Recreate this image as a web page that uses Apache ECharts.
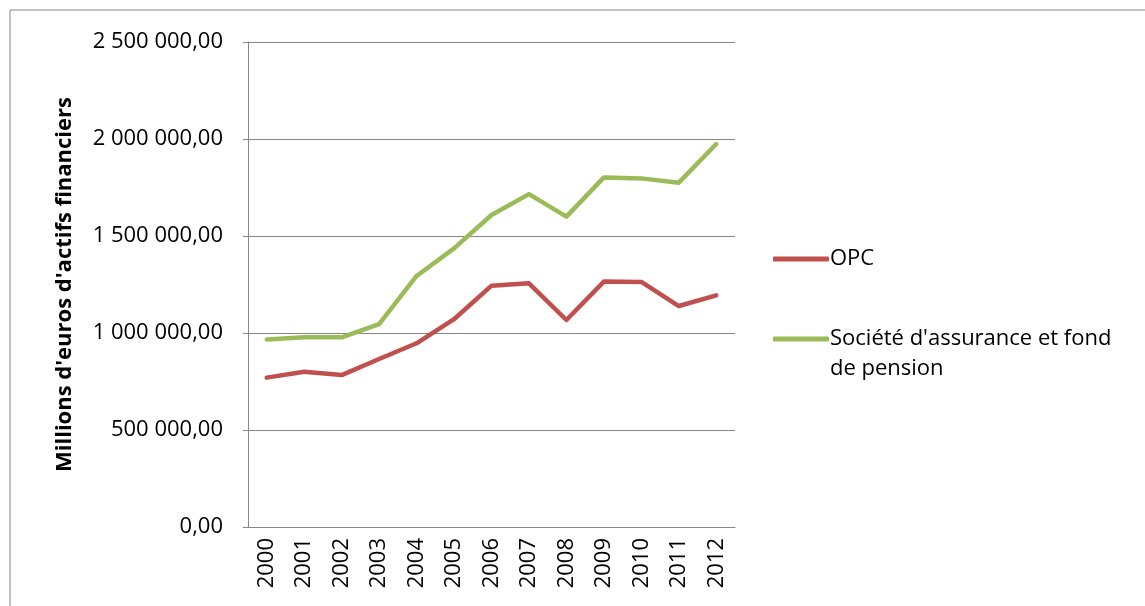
<!DOCTYPE html>
<html>
<head>
<meta charset="utf-8">
<script src="https://cdn.jsdelivr.net/npm/echarts@6/dist/echarts.min.js"></script>
<style>
  html, body { margin: 0; padding: 0; background: #fff; }
  #main { width: 1145px; height: 606px; }
</style>
</head>
<body>
<div id="main"></div>
<script>
// années
const years = ['2000','2001','2002','2003','2004','2005','2006','2007','2008','2009','2010','2011','2012']
// OPC (millions d'euros)
const opc = [770000, 800000, 783000, 866000, 947000, 1071000, 1244000, 1256000, 1067000, 1265000, 1263000, 1139000, 1194000]
// Société d'assurance et fond de pension
const assurance = [967000, 978000, 978000, 1046000, 1294000, 1436000, 1608000, 1716000, 1600000, 1802000, 1797000, 1775000, 1974000]
const yTicks = [0, 500000, 1000000, 1500000, 2000000, 2500000]

const font = '"Open Sans", "Noto Sans", sans-serif'
const fs = 22

// 2 500 000,00
function fmt(v) {
    const s = String(Math.round(v)).replace(/\B(?=(\d{3})+(?!\d))/g, ' ')
    return s + ',00'
}

const myChart = echarts.init(document.getElementById('main'))
myChart.setOption({
    animation: false,
    textStyle: { fontFamily: font },
    graphic: [
        {
            type: 'rect',
            shape: { x: 10, y: 10, width: 1200, height: 700 },
            style: { fill: 'none', stroke: '#868686', lineWidth: 1 },
            silent: true
        },
        {
            // deuxième ligne de la légende
            type: 'text',
            left: 830,
            top: 358,
            style: { text: 'de pension', fontSize: fs, fontFamily: font, fill: '#000' },
            silent: true
        }
    ],
    grid: { left: 248, top: 42, width: 487, height: 485 },
    legend: {
        orient: 'vertical',
        left: 773,
        top: 248,
        padding: 0,
        itemGap: 58,
        itemWidth: 56,
        itemHeight: 5,
        icon: 'roundRect',
        textStyle: { fontFamily: font, fontSize: fs, color: '#000', padding: [0, 0, 0, -4] },
        formatter: function (name) {
            return name === 'OPC' ? name : "Société d'assurance et fond"
        },
        data: ['OPC', "Société d'assurance et fond de pension"]
    },
    xAxis: {
        type: 'category',
        data: years,
        boundaryGap: true,
        axisLine: { lineStyle: { color: '#868686', width: 1 } },
        axisTick: { show: false },
        axisLabel: { rotate: 90, fontSize: fs, color: '#000', margin: 11, fontFamily: font }
    },
    yAxis: {
        type: 'value',
        min: yTicks[0],
        max: yTicks[yTicks.length - 1],
        interval: 500000,
        name: "Millions d'euros d'actifs financiers",
        nameLocation: 'middle',
        nameGap: 172,
        nameTextStyle: { fontSize: fs, fontWeight: 'bold', color: '#000', fontFamily: font },
        axisLine: { show: true, lineStyle: { color: '#868686', width: 1 } },
        axisTick: { show: true, length: 5, lineStyle: { color: '#868686' } },
        splitLine: { lineStyle: { color: '#868686', width: 1 } },
        axisLabel: { fontSize: fs, color: '#000', margin: 25, formatter: fmt, fontFamily: font }
    },
    series: [
        {
            name: 'OPC',
            type: 'line',
            data: opc,
            symbol: 'none',
            color: '#C0504D',
            lineStyle: { width: 4.5, color: '#C0504D', cap: 'round', join: 'round' }
        },
        {
            name: "Société d'assurance et fond de pension",
            type: 'line',
            data: assurance,
            symbol: 'none',
            color: '#9BBB59',
            lineStyle: { width: 4.5, color: '#9BBB59', cap: 'round', join: 'round' }
        }
    ]
})
</script>
</body>
</html>
